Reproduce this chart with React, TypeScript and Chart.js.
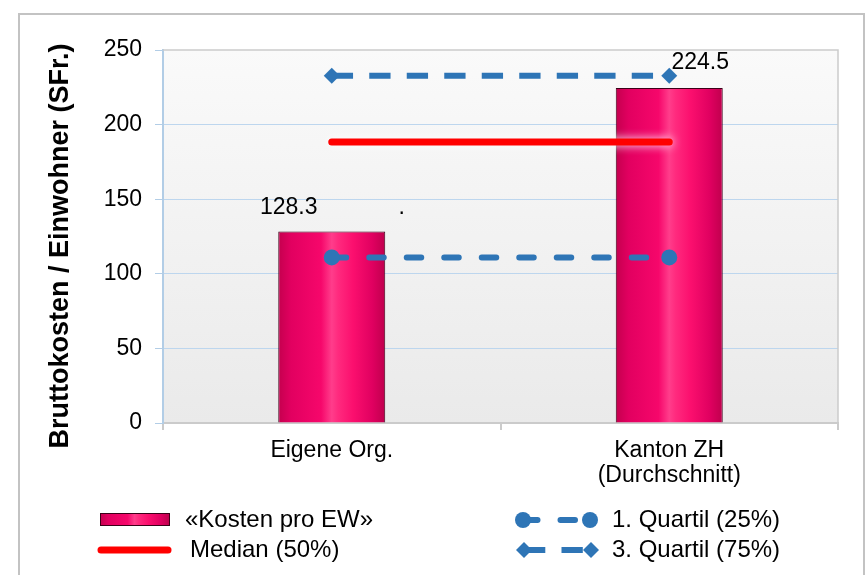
import React, { useEffect, useRef } from 'react';
import { Chart, registerables } from 'chart.js';

Chart.register(...registerables);

// ---------- data ----------
const categories: (string | string[])[] = ['Eigene Org.', ['Kanton ZH', '(Durchschnitt)']];
const costPerResident = [128.3, 224.5];
const medianValues = [188.3, 188.3];
const quartile1Values = [111.0, 111.0];
const quartile3Values = [232.8, 232.8];
const yTickValues = [0, 50, 100, 150, 200, 250];
const seriesNames = ['«Kosten pro EW»', 'Median (50%)', '1. Quartil (25%)', '3. Quartil (75%)'];
const yAxisTitle = 'Bruttokosten / Einwohner (SFr.)';
const extraLabelText = '.';

// ---------- styles ----------
const FONT = "'Liberation Sans', Arial, sans-serif";
const W = 867;
const H = 575;
const BAR_PCT = 0.317;
const BLUE = '#2e75b6';
const GRID_BLUE = '#bdd6ee';
const AXIS_BLUE = '#b2cde6';
const GREY = '#cbcbcb';
const Q1_DASH = [14.5, 23];
const Q3_DASH = [21.3, 16.2];
const LABEL_OFFSETS = [
  { dx: -43, dy: -24 },
  { dx: 31, dy: -25 },
];
const EXTRA_LABEL_OFFSET = { dx: 70, dy: -24 };
const TITLE_POS = { x: 61, y: 246 };

function barGradient(ctx: CanvasRenderingContext2D, x0: number, x1: number) {
  const g = ctx.createLinearGradient(x0, 0, x1, 0);
  g.addColorStop(0, '#c4004e');
  g.addColorStop(0.12, '#e20060');
  g.addColorStop(0.4, '#f6076b');
  g.addColorStop(0.5, '#ff3d8b');
  g.addColorStop(0.56, '#ff2a7e');
  g.addColorStop(0.7, '#fb0f6e');
  g.addColorStop(0.88, '#e00060');
  g.addColorStop(1, '#bf004d');
  return g;
}

function drawDiamond(ctx: CanvasRenderingContext2D, x: number, y: number, r: number) {
  ctx.beginPath();
  ctx.moveTo(x - r, y);
  ctx.lineTo(x, y - r);
  ctx.lineTo(x + r, y);
  ctx.lineTo(x, y + r);
  ctx.closePath();
  ctx.fill();
}

function drawCircle(ctx: CanvasRenderingContext2D, x: number, y: number, r: number) {
  ctx.beginPath();
  ctx.arc(x, y, r, 0, Math.PI * 2);
  ctx.fill();
}

const backgroundPlugin = {
  id: 'bgPlugin',
  beforeDraw(chart: any) {
    const { ctx, chartArea } = chart;
    ctx.save();
    ctx.fillStyle = '#ffffff';
    ctx.fillRect(0, 0, W, H);
    // outer frame
    ctx.strokeStyle = '#c3c3c3';
    ctx.lineWidth = 2;
    ctx.strokeRect(19, 14, 845, H + 20);
    // plot area gradient
    const g = ctx.createLinearGradient(0, chartArea.top, 0, chartArea.bottom);
    g.addColorStop(0, '#fafafa');
    g.addColorStop(1, '#eaeaea');
    ctx.fillStyle = g;
    ctx.fillRect(chartArea.left, chartArea.top, chartArea.right - chartArea.left, chartArea.bottom - chartArea.top);
    ctx.restore();
  },
  beforeDatasetsDraw(chart: any) {
    const { ctx, chartArea } = chart;
    ctx.save();
    ctx.strokeStyle = GREY;
    ctx.lineWidth = 1.5;
    ctx.beginPath();
    ctx.moveTo(chartArea.left, chartArea.top);
    ctx.lineTo(chartArea.right, chartArea.top);
    ctx.lineTo(chartArea.right, chartArea.bottom);
    ctx.stroke();
    // y axis title
    ctx.translate(TITLE_POS.x, TITLE_POS.y);
    ctx.rotate(-Math.PI / 2);
    ctx.font = `bold 27px ${FONT}`;
    ctx.fillStyle = '#000';
    ctx.textAlign = 'center';
    ctx.textBaseline = 'middle';
    ctx.fillText(yAxisTitle, 0, 0);
    ctx.restore();
  },
};

const glowPlugin = {
  id: 'glowPlugin',
  beforeDatasetDraw(chart: any, args: any) {
    if (args.index === 1) {
      chart.ctx.save();
      chart.ctx.shadowColor = 'rgba(255,255,255,0.95)';
      chart.ctx.shadowBlur = 10;
    }
  },
  afterDatasetDraw(chart: any, args: any) {
    if (args.index === 1) {
      chart.ctx.restore();
    }
  },
};

const labelsPlugin = {
  id: 'valueLabels',
  afterDatasetsDraw(chart: any) {
    const { ctx } = chart;
    const meta = chart.getDatasetMeta(0);
    ctx.save();
    ctx.font = `23px ${FONT}`;
    ctx.fillStyle = '#000';
    ctx.textAlign = 'center';
    ctx.textBaseline = 'middle';
    meta.data.forEach((el: any, i: number) => {
      const o = LABEL_OFFSETS[i];
      ctx.fillText(costPerResident[i].toFixed(1), el.x + o.dx, el.y + o.dy);
    });
    const first = meta.data[0];
    ctx.fillText(extraLabelText, first.x + EXTRA_LABEL_OFFSET.dx, first.y + EXTRA_LABEL_OFFSET.dy);
    ctx.restore();
  },
};

const legendPlugin = {
  id: 'customLegend',
  afterDraw(chart: any) {
    const { ctx } = chart;
    ctx.save();
    ctx.font = `24px ${FONT}`;
    ctx.fillStyle = '#000';
    ctx.textAlign = 'left';
    ctx.textBaseline = 'middle';
    const row1 = 520;
    const row2 = 550;

    // bars
    ctx.fillStyle = barGradient(ctx, 100, 169);
    ctx.fillRect(100, row1 - 6, 69, 12);
    ctx.strokeStyle = '#3c0018';
    ctx.lineWidth = 1;
    ctx.strokeRect(100.5, row1 - 6.5, 69, 12);
    ctx.fillStyle = '#000';
    ctx.fillText(seriesNames[0], 185, row1);

    // median
    ctx.strokeStyle = '#ff0000';
    ctx.lineWidth = 7;
    ctx.lineCap = 'round';
    ctx.beginPath();
    ctx.moveTo(101, row2);
    ctx.lineTo(168, row2);
    ctx.stroke();
    ctx.fillText(seriesNames[1], 190, row2);

    // quartile 1
    ctx.strokeStyle = BLUE;
    ctx.fillStyle = BLUE;
    ctx.lineWidth = 6;
    ctx.lineCap = 'round';
    ctx.setLineDash(Q1_DASH);
    ctx.beginPath();
    ctx.moveTo(523, row1);
    ctx.lineTo(590, row1);
    ctx.stroke();
    ctx.setLineDash([]);
    drawCircle(ctx, 523, row1, 8);
    drawCircle(ctx, 590, row1, 8);

    // quartile 3
    ctx.lineCap = 'butt';
    ctx.setLineDash(Q3_DASH);
    ctx.beginPath();
    ctx.moveTo(524, row2);
    ctx.lineTo(591, row2);
    ctx.stroke();
    ctx.setLineDash([]);
    drawDiamond(ctx, 524, row2, 8);
    drawDiamond(ctx, 591, row2, 8);

    ctx.fillStyle = '#000';
    ctx.fillText(seriesNames[2], 612, row1);
    ctx.fillText(seriesNames[3], 612, row2);
    ctx.restore();
  },
};

export default function App() {
  const canvasRef = useRef<HTMLCanvasElement | null>(null);

  useEffect(() => {
    const canvas = canvasRef.current;
    if (!canvas) return;
    Chart.defaults.font.family = FONT;
    const chart = new Chart(canvas, {
      type: 'bar',
      data: {
        labels: categories,
        datasets: [
          {
            type: 'bar',
            label: seriesNames[0],
            data: costPerResident,
            order: 4,
            barPercentage: BAR_PCT,
            categoryPercentage: 1,
            borderColor: '#3c0018',
            borderWidth: 1,
            backgroundColor: (c: any) => {
              const ch = c.chart;
              const xs = ch.scales && ch.scales.x;
              if (!ch.chartArea || !xs || c.dataIndex === undefined) return '#f0066a';
              const cx = xs.getPixelForValue(c.dataIndex);
              const w = (xs.width / categories.length) * BAR_PCT;
              return barGradient(ch.ctx, cx - w / 2, cx + w / 2);
            },
          } as any,
          {
            type: 'line',
            label: seriesNames[1],
            data: medianValues,
            order: 3,
            borderColor: '#ff0000',
            borderWidth: 7,
            borderCapStyle: 'round',
            pointRadius: 0,
            tension: 0,
          } as any,
          {
            type: 'line',
            label: seriesNames[2],
            data: quartile1Values,
            order: 2,
            borderColor: BLUE,
            backgroundColor: BLUE,
            borderWidth: 6,
            borderCapStyle: 'round',
            borderDash: Q1_DASH,
            pointStyle: 'circle',
            pointRadius: 8,
            pointBorderWidth: 0,
            pointBackgroundColor: BLUE,
            tension: 0,
          } as any,
          {
            type: 'line',
            label: seriesNames[3],
            data: quartile3Values,
            order: 1,
            borderColor: BLUE,
            backgroundColor: BLUE,
            borderWidth: 6,
            borderCapStyle: 'butt',
            borderDash: Q3_DASH,
            pointStyle: 'rectRot',
            pointRadius: 8,
            pointBorderWidth: 0,
            pointBackgroundColor: BLUE,
            tension: 0,
          } as any,
        ],
      },
      options: {
        responsive: false,
        animation: false,
        devicePixelRatio: 1,
        layout: { padding: { left: 0, top: 50, right: 29, bottom: 0 } },
        plugins: {
          legend: { display: false },
          tooltip: { enabled: false },
        },
        scales: {
          x: {
            type: 'category',
            offset: true,
            grid: {
              offset: true,
              drawOnChartArea: false,
              color: GREY,
              tickColor: GREY,
              tickLength: 7,
              lineWidth: 2,
            },
            border: { color: GREY, width: 2 },
            ticks: {
              color: '#000',
              font: { family: FONT, size: 23, lineHeight: 1.1 },
              padding: 8,
              maxRotation: 0,
              autoSkip: false,
            },
            afterFit: (s: any) => {
              s.height = 152;
            },
          },
          y: {
            min: 0,
            max: 250,
            afterBuildTicks: (s: any) => {
              s.ticks = yTickValues.map((v) => ({ value: v }));
            },
            ticks: {
              color: '#000',
              font: { family: FONT, size: 23 },
              padding: 13,
            },
            grid: {
              color: (c: any) =>
                c.tick && (c.tick.value === 0 || c.tick.value === 250) ? 'rgba(0,0,0,0)' : GRID_BLUE,
              tickColor: AXIS_BLUE,
              tickLength: 8,
              lineWidth: 1,
            },
            border: { color: AXIS_BLUE, width: 2 },
            title: { display: false },
            afterFit: (s: any) => {
              s.width = 163;
            },
          },
        },
      } as any,
      plugins: [backgroundPlugin, glowPlugin, labelsPlugin, legendPlugin],
    });
    return () => chart.destroy();
  }, []);

  return (
    <div style={{ position: 'fixed', left: 0, top: 0, width: W, height: H, background: '#fff' }}>
      <canvas ref={canvasRef} width={W} height={H} style={{ display: 'block' }} />
    </div>
  );
}
